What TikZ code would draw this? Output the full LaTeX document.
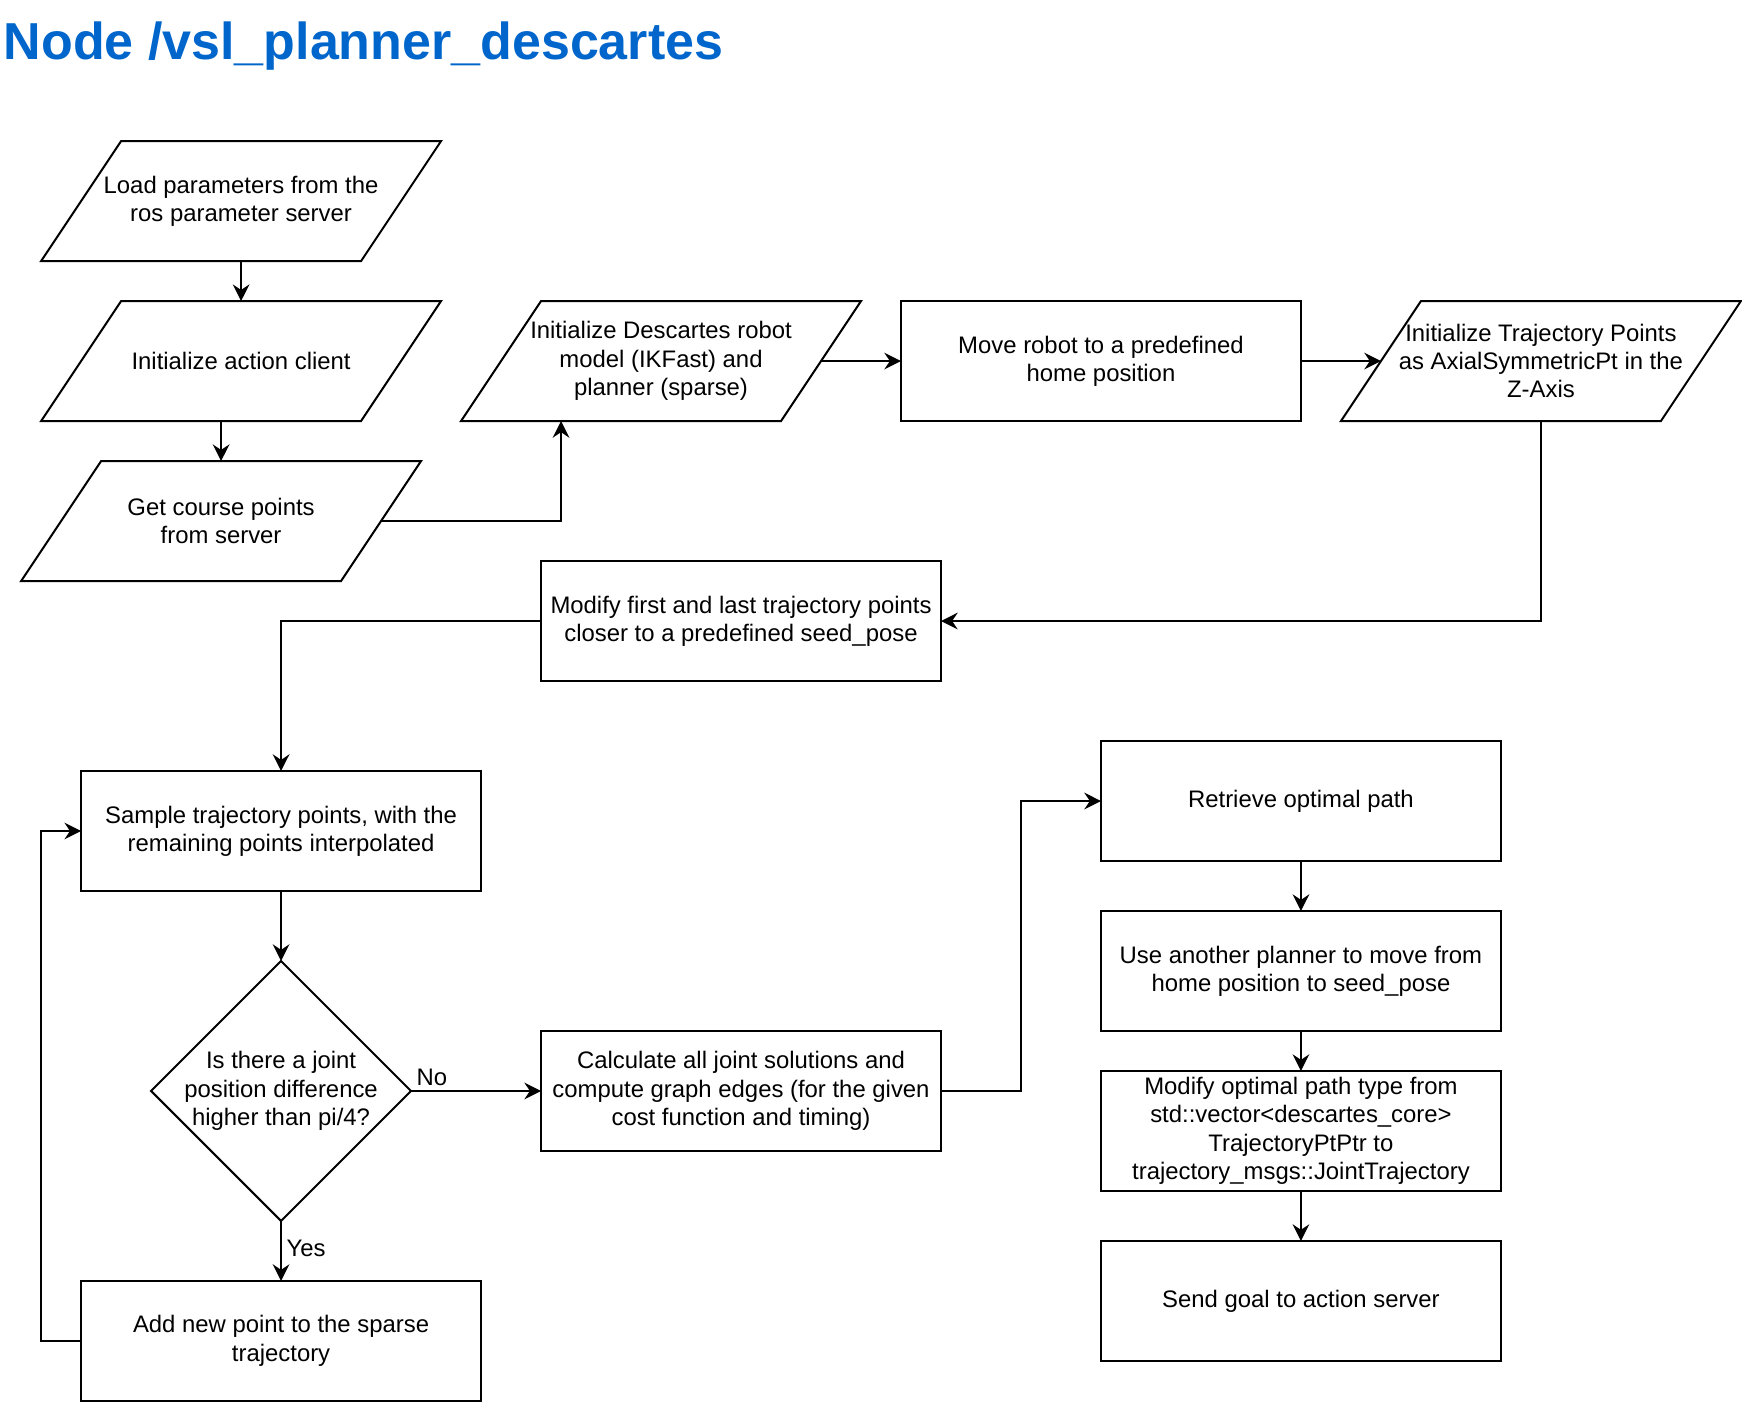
\documentclass[tikz,border=0pt]{standalone}
\usepackage{fontspec}
\setmainfont{Liberation Sans}
\usetikzlibrary{positioning, shapes.geometric, arrows.meta}
\definecolor{titleblue}{HTML}{0066CC}
\newcommand{\flowfont}{\fontsize{10.75pt}{12.75pt}\selectfont}

\begin{document}
\begin{tikzpicture}[
        x=0.5pt, y=-0.5pt,
        stepnode/.style={rectangle, draw=black, line width=0.9pt, minimum width=180pt, minimum height=54pt, inner sep=2pt, outer sep=0pt, align=center, font=\flowfont},
        ionode/.style={rectangle, minimum width=144pt, minimum height=54pt, inner sep=2pt, outer sep=0pt, align=center, font=\flowfont},
        decisionnode/.style={diamond, draw=black, line width=0.9pt, minimum width=117pt, minimum height=117pt, inner sep=-4pt, outer sep=0pt, align=center, font=\flowfont},
        edgelabel/.style={font=\flowfont, inner sep=2pt},
        flowarrow/.style={-{Stealth[length=7.5pt, width=7.5pt, inset=2.5pt]}, line width=0.9pt},
]
        \useasboundingbox (0,0) rectangle (1568,1262);

        \node[anchor=base west, inner sep=0pt, text=titleblue, font=\fontsize{23.4pt}{28pt}\selectfont\bfseries] (title) at (3,53.5) {Node /vsl\_planner\_descartes};

        \node[ionode] (load) at (217,181) {Load parameters from the\\ros parameter server};
        \node[ionode] (client) [below=18pt of load] {Initialize action client};
        \node[ionode] (getcourse) [below=18pt of client, xshift=-9pt] {Get course points\\from server};
        \node[ionode] (descartes) [right=45pt of client] {Initialize Descartes robot\\model (IKFast) and\\planner (sparse)};
        \node[stepnode] (move) [right=36pt of descartes] {Move robot to a predefined\\home position};
        \node[ionode] (traj) [right=36pt of move] {Initialize Trajectory Points\\as AxialSymmetricPt in the\\Z-Axis};
        \node[stepnode] (modfirst) [below=63pt of descartes, xshift=36pt] {Modify first and last trajectory points\\closer to a predefined seed\_pose};
        \node[stepnode] (sample) [below=85.5pt of getcourse, xshift=27pt] {Sample trajectory points, with the\\remaining points interpolated};
        \node[decisionnode] (joint) [below=31.5pt of sample] {Is there a joint\\position difference\\higher than pi/4?};
        \node[stepnode] (addpt) [below=27pt of joint] {Add new point to the sparse\\trajectory};
        \node[stepnode] (calc) [right=58.5pt of joint] {Calculate all joint solutions and\\compute graph edges (for the given\\cost function and timing)};
        \node[stepnode] (retrieve) [right=72pt of calc, yshift=130.5pt] {Retrieve optimal path};
        \node[stepnode] (use) [below=22.5pt of retrieve] {Use another planner to move from\\home position to seed\_pose};
        \node[stepnode] (modopt) [below=18pt of use] {Modify optimal path type from\\std::vector<descartes\_core>\\TrajectoryPtPtr to\\trajectory\_msgs::JointTrajectory};
        \node[stepnode] (send) [below=22.5pt of modopt] {Send goal to action server};

        % slanted input/output boxes
        \foreach \n in {load, client, getcourse, descartes, traj}
            \draw[line width=0.9pt] ([xshift=-18pt]\n.south west) -- ([xshift=-18pt]\n.south east) -- ([xshift=18pt]\n.north east) -- ([xshift=18pt]\n.north west) -- cycle;

        \draw[flowarrow] (load) -- (client);
        \draw[flowarrow] (client.south -| getcourse.north) -- (getcourse.north);
        \draw[flowarrow] (getcourse.east) -| ([xshift=-45pt]descartes.south);
        \draw[flowarrow] (descartes) -- (move);
        \draw[flowarrow] (move) -- (traj);
        \draw[flowarrow] (traj.south) |- (modfirst.east);
        \draw[flowarrow] (modfirst.west) -| (sample.north);
        \draw[flowarrow] (sample) -- (joint);
        \draw[flowarrow] (joint) -- node[edgelabel, pos=0, above right] {No} (calc);
        \draw[flowarrow] (joint) -- node[edgelabel, pos=0.45, right] {Yes} (addpt);
        \draw[flowarrow] (addpt.west) -- ++(-36,0) |- (sample.west);
        \draw[flowarrow] (calc.east) -- ++(72,0) |- (retrieve.west);
        \draw[flowarrow] (retrieve) -- (use);
        \draw[flowarrow] (use) -- (modopt);
        \draw[flowarrow] (modopt) -- (send);
\end{tikzpicture}
\end{document}
